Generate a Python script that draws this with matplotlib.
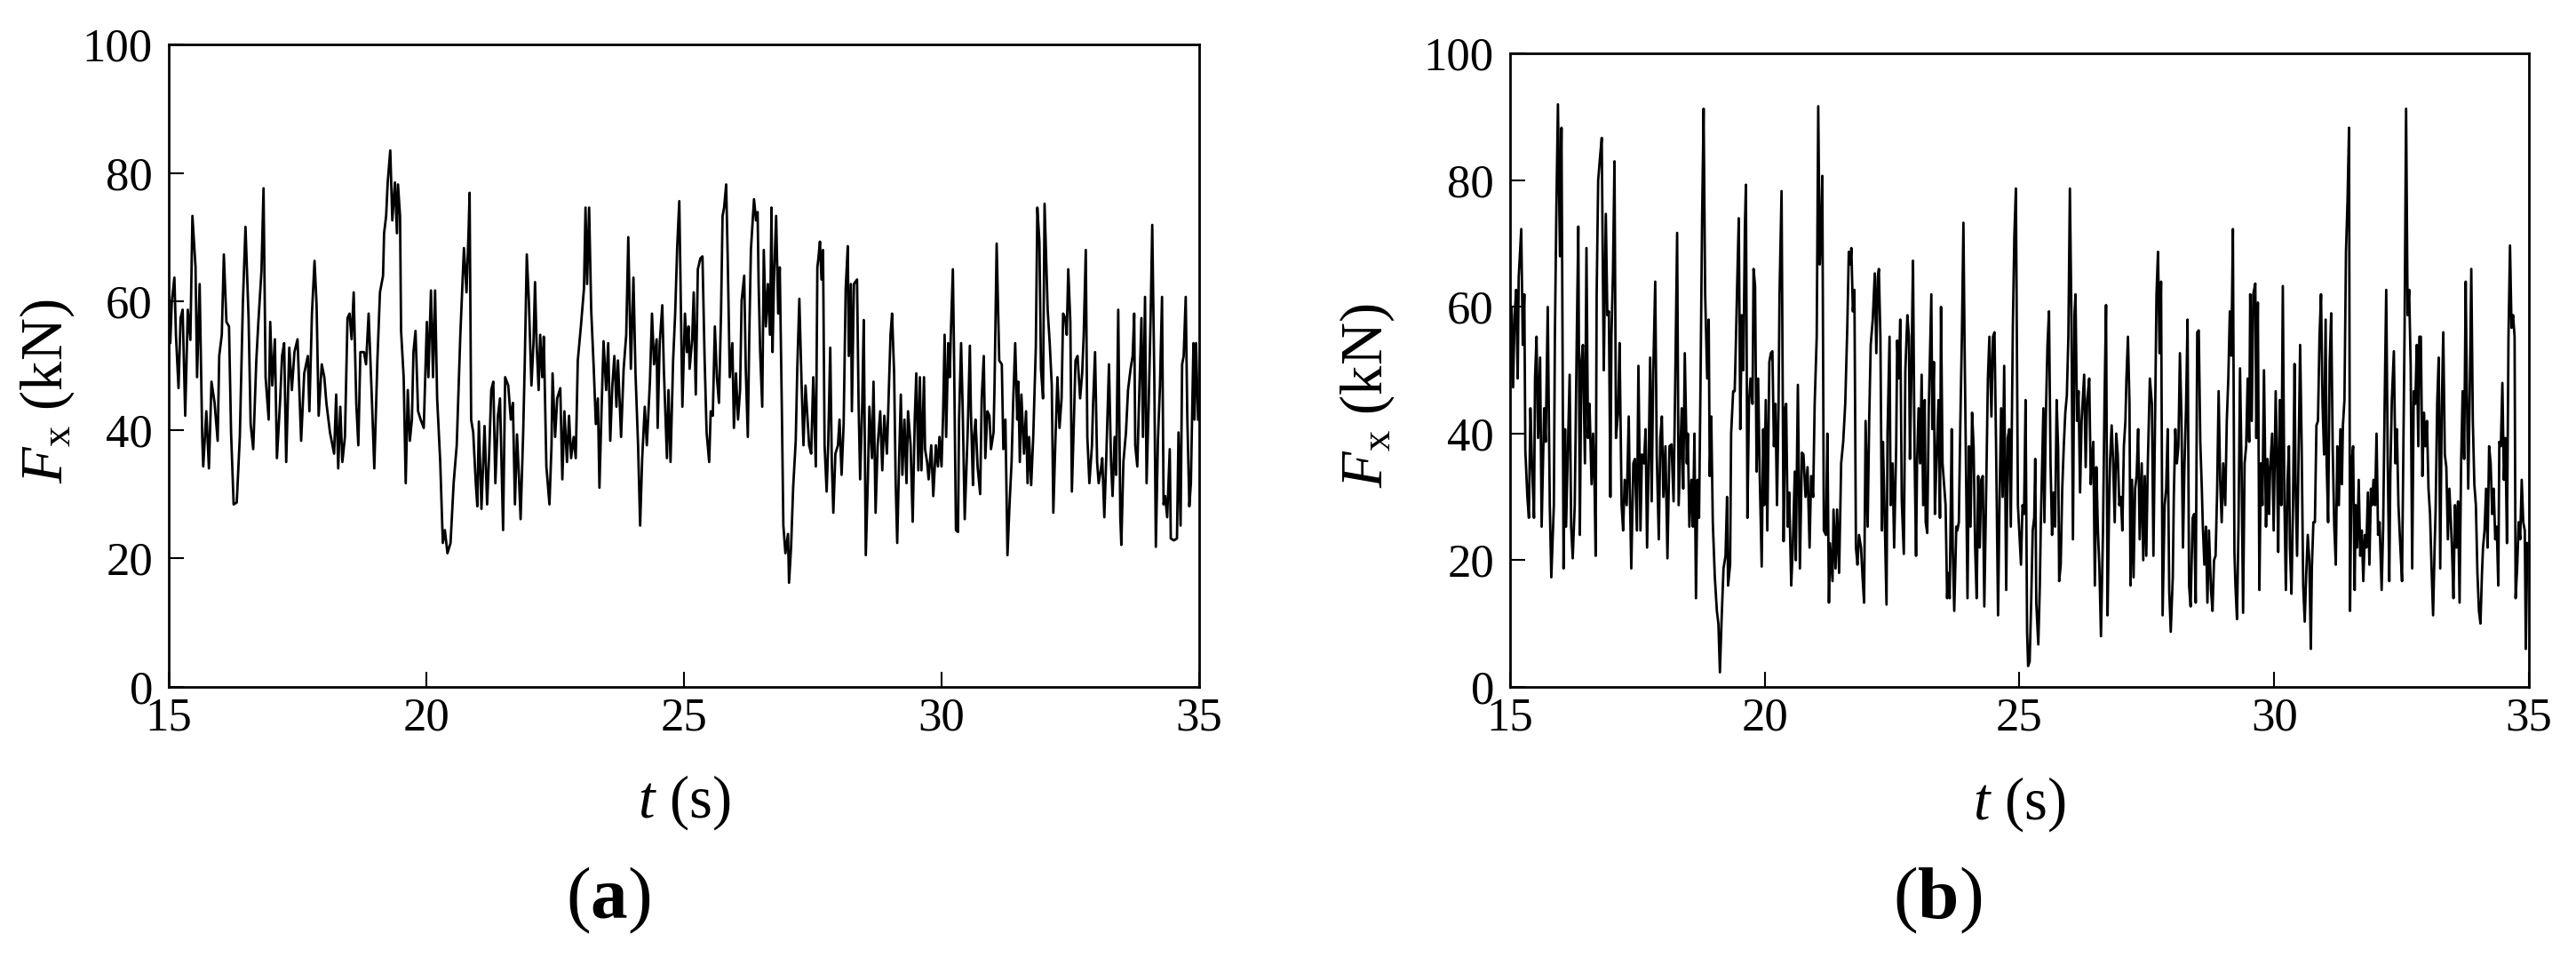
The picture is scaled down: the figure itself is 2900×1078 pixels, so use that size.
import numpy as np
import matplotlib
matplotlib.use('Agg')
import matplotlib.pyplot as plt

# values: (t in s, Fx in kN) at peaks / troughs

# panel (a)
fx_a_15_20 = [(15.00, 58.0), (15.03, 53.5), (15.06, 60), (15.11, 63.7), (15.14, 54.8), (15.19, 46.5), (15.23, 57.4),
    (15.27, 58.7), (15.32, 42.2), (15.37, 58.7), (15.42, 54), (15.46, 73.3), (15.52, 65.3), (15.55, 48.2),
    (15.60, 62.7), (15.65, 38.9), (15.67, 34.3), (15.73, 42.9), (15.78, 34), (15.83, 47.5), (15.89, 44.2),
    (15.95, 38.3), (15.98, 51.5), (16.03, 54.8), (16.07, 67.3), (16.12, 56.8), (16.17, 56.1), (16.21, 39.6),
    (16.26, 28.4), (16.32, 28.7), (16.38, 38.9), (16.44, 60), (16.49, 71.6), (16.55, 57.4), (16.59, 40.9),
    (16.64, 37), (16.70, 50.8), (16.74, 56.8), (16.80, 64.7), (16.84, 77.6), (16.88, 48.2), (16.94, 41.6),
    (16.97, 56.8), (17.01, 46.9), (17.06, 54.1), (17.10, 35.6), (17.16, 44.2), (17.20, 51.5), (17.24, 53.5),
    (17.28, 35), (17.34, 52.8), (17.39, 46.2), (17.44, 52.1), (17.50, 54.1), (17.57, 38.3), (17.63, 48.8),
    (17.70, 51.5), (17.73, 42.9), (17.78, 58.1), (17.83, 66.3), (17.87, 59.4), (17.91, 42.2), (17.97, 50.2),
    (18.02, 48.2), (18.06, 44.2), (18.13, 39.6), (18.21, 36.3), (18.25, 45.5), (18.29, 34), (18.33, 43.6),
    (18.37, 35), (18.42, 38.9), (18.47, 57.4), (18.51, 58.1), (18.55, 54.1), (18.59, 61.4), (18.64, 44.2),
    (18.68, 37.6), (18.72, 52.1), (18.79, 52.1), (18.83, 50.2), (18.88, 58.1), (18.94, 45.5), (18.99, 34),
    (19.05, 50.8), (19.10, 61.4), (19.16, 64), (19.18, 70.6), (19.22, 73.3), (19.25, 78.5), (19.30, 83.5),
    (19.34, 72.6), (19.39, 78.5), (19.43, 70.6), (19.45, 78.2), (19.49, 73.3), (19.51, 55.4), (19.56, 48.2),
    (19.60, 31.7), (19.64, 46.2), (19.68, 38.3), (19.72, 41.6), (19.75, 52.1), (19.79, 55.4), (19.84, 42.9),
    (19.89, 41.6)]

fx_a_20_25 = [(19.95, 40.3), (20.01, 56.8), (20.04, 48.2), (20.09, 61.7), (20.13, 48.2), (20.17, 61.7),
    (20.21, 44.9), (20.27, 35), (20.32, 22.4), (20.36, 24.4), (20.41, 20.8), (20.47, 22.4), (20.53, 31.7),
    (20.59, 37.6), (20.66, 54.8), (20.73, 68.3), (20.78, 61.4), (20.82, 70.9), (20.84, 76.9), (20.87, 41.6),
    (20.91, 39.6), (20.96, 31.7), (20.99, 28.1), (21.02, 41.3), (21.07, 27.7), (21.13, 40.6), (21.18, 28.4),
    (21.22, 36.3), (21.26, 46.2), (21.30, 47.5), (21.34, 31.7), (21.39, 42.2), (21.43, 44.9), (21.49, 24.4),
    (21.53, 48.2), (21.59, 46.9), (21.64, 41.6), (21.68, 44.2), (21.72, 28.4), (21.76, 39.3), (21.80, 32.3),
    (21.83, 26.1), (21.88, 39.6), (21.91, 50.2), (21.95, 67.3), (21.99, 60.1), (22.04, 46.9), (22.08, 53.5),
    (22.11, 63), (22.14, 53.5), (22.18, 46.2), (22.21, 54.8), (22.25, 48.2), (22.28, 54.5), (22.33, 34.3),
    (22.39, 28.4), (22.43, 37.6), (22.45, 48.8), (22.50, 38.9), (22.54, 44.9), (22.60, 46.5), (22.64, 32.3),
    (22.68, 42.9), (22.73, 35), (22.77, 42.2), (22.81, 35.6), (22.86, 38.9), (22.90, 35.6), (22.94, 50.8),
    (23.00, 56.1), (23.06, 62), (23.09, 74.6), (23.12, 62.7), (23.16, 74.6), (23.20, 58.7), (23.25, 49.5),
    (23.29, 40.9), (23.33, 44.9), (23.36, 31), (23.40, 42.9), (23.44, 53.8), (23.49, 46.2), (23.53, 53.5),
    (23.57, 38.3), (23.61, 46.9), (23.65, 51.5), (23.69, 43.6), (23.72, 50.8), (23.78, 38.9), (23.83, 49.5),
    (23.88, 54.8), (23.92, 70), (23.97, 49.5), (24.02, 63.7), (24.06, 48.8), (24.11, 37.6), (24.15, 25.1),
    (24.19, 35.6), (24.24, 43.6), (24.28, 37.6), (24.34, 47.5), (24.38, 58.1), (24.42, 50.2), (24.47, 54.1),
    (24.49, 40.3), (24.53, 53.5), (24.58, 59.4), (24.61, 49.5), (24.67, 35.6), (24.70, 46.2), (24.74, 35),
    (24.79, 50.8), (24.83, 58.1), (24.87, 68.6), (24.91, 75.6), (24.95, 54.8), (24.97, 43.6)]

fx_a_25_30 = [(25.02, 58.1), (25.06, 52.1), (25.09, 56.1), (25.11, 49.5), (25.16, 54.1), (25.19, 61.4),
    (25.23, 45.5), (25.27, 65), (25.32, 66.7), (25.36, 67), (25.40, 51.5), (25.44, 39.6), (25.49, 35),
    (25.52, 42.9), (25.56, 42.2), (25.60, 56.1), (25.64, 48.2), (25.68, 44.2), (25.72, 58.1), (25.75, 73.3),
    (25.78, 74.6), (25.82, 78.2), (25.85, 66.7), (25.89, 48.2), (25.94, 53.5), (25.97, 40.3), (26.01, 48.8),
    (26.05, 41.6), (26.09, 46.2), (26.12, 60.1), (26.17, 64), (26.20, 49.5), (26.24, 38.9), (26.27, 55.4),
    (26.30, 68), (26.36, 75.9), (26.40, 72.6), (26.43, 73.9), (26.45, 62.7), (26.48, 52.1), (26.52, 43.6),
    (26.55, 68), (26.59, 56.1), (26.63, 62.7), (26.67, 54.8), (26.70, 74.6), (26.72, 52.1), (26.75, 64),
    (26.79, 73.3), (26.83, 58.1), (26.86, 65.3), (26.90, 43.6), (26.93, 25.1), (26.97, 20.8), (27.02, 23.8),
    (27.04, 16.2), (27.08, 21.8), (27.12, 31), (27.17, 38.3), (27.20, 49.5), (27.24, 60.4), (27.28, 48.2),
    (27.32, 37.6), (27.36, 46.9), (27.39, 42.9), (27.43, 37.6), (27.47, 36.3), (27.51, 48.2), (27.56, 34.3),
    (27.59, 65.3), (27.61, 66.7), (27.64, 69.3), (27.67, 63.4), (27.70, 68), (27.73, 37.6), (27.77, 30.4),
    (27.80, 37.6), (27.84, 52.8), (27.87, 35), (27.90, 27.1), (27.94, 36.3), (27.99, 37.6), (28.02, 41.6),
    (28.06, 33), (28.10, 40.9), (28.14, 62), (28.18, 68.6), (28.20, 51.5), (28.24, 62.7), (28.26, 42.9),
    (28.30, 62.7), (28.36, 63.4), (28.39, 44.2), (28.42, 32.3), (28.46, 43.6), (28.49, 57.1), (28.53, 20.5),
    (28.57, 32.3), (28.60, 43.6), (28.65, 35.6), (28.68, 47.5), (28.72, 27.1), (28.76, 37.6), (28.81, 42.9),
    (28.85, 33.7), (28.89, 42.2), (28.94, 36.3), (28.97, 44.2), (29.01, 54.8), (29.04, 58.1), (29.08, 48.8),
    (29.11, 31.7), (29.14, 22.4), (29.18, 36.3), (29.21, 45.5), (29.24, 33), (29.28, 41.6), (29.32, 31.7),
    (29.35, 42.9), (29.40, 37.6), (29.44, 25.7), (29.48, 41.6), (29.51, 48.8), (29.55, 33.7), (29.58, 48.2),
    (29.61, 33.7), (29.66, 48.2), (29.68, 37), (29.72, 35), (29.75, 32.3), (29.80, 37.6), (29.84, 29.7),
    (29.89, 37.6), (29.93, 34.3), (29.96, 38.9), (30.00, 34.3)]

fx_a_30_35 = [(30.03, 42.2), (30.06, 54.8), (30.09, 38.9), (30.13, 53.5), (30.16, 48.2), (30.18, 54.8),
    (30.22, 65), (30.24, 53.5), (30.28, 24.4), (30.32, 24.1), (30.34, 41.6), (30.38, 53.5), (30.41, 43.6),
    (30.45, 26.1), (30.51, 40.3), (30.55, 53.1), (30.57, 42.9), (30.61, 31.4), (30.63, 38.9), (30.66, 41.6),
    (30.70, 34.3), (30.75, 30), (30.78, 44.9), (30.82, 51.5), (30.85, 35.6), (30.89, 42.9), (30.93, 42.2),
    (30.96, 37), (31.01, 39.6), (31.03, 47.5), (31.07, 69), (31.12, 50.8), (31.17, 50.2), (31.20, 37),
    (31.24, 41.6), (31.28, 20.5), (31.32, 28.4), (31.36, 35), (31.39, 44.2), (31.43, 53.5), (31.47, 41.6),
    (31.49, 47.5), (31.52, 35), (31.55, 45.5), (31.60, 36.3), (31.64, 42.9), (31.67, 31.7), (31.70, 38.9),
    (31.74, 31.4), (31.78, 38.9), (31.83, 52.8), (31.86, 74.6), (31.90, 69.3), (31.93, 49.5), (31.97, 44.9),
    (32.00, 75.2), (32.03, 66.7), (32.06, 58.7), (32.10, 53.5), (32.14, 46.9), (32.17, 27.1), (32.21, 38.3),
    (32.25, 48.2), (32.29, 40.3), (32.33, 44.9), (32.36, 58.1), (32.40, 57.4), (32.43, 54.8), (32.46, 65),
    (32.50, 56.8), (32.53, 30.4), (32.57, 41.6), (32.60, 50.8), (32.64, 51.5), (32.69, 44.9), (32.73, 48.8),
    (32.76, 54.8), (32.80, 68), (32.83, 38.9), (32.87, 31.7), (32.92, 37.6), (32.94, 43.6), (32.98, 52.1),
    (33.02, 35), (33.05, 31.7), (33.09, 33.7), (33.12, 35.6), (33.16, 26.4), (33.20, 36.3), (33.25, 50.2),
    (33.29, 35), (33.32, 29.7), (33.36, 38.9), (33.39, 33), (33.43, 58.7), (33.47, 26.4), (33.49, 22.1),
    (33.53, 35), (33.58, 39.6), (33.62, 46.2), (33.67, 49.5), (33.71, 51.5), (33.74, 58.1), (33.76, 37.6),
    (33.80, 34.3), (33.84, 46.2), (33.88, 57.4), (33.91, 38.9), (33.95, 60.7), (33.98, 31.7), (34.02, 43.6),
    (34.06, 58.1), (34.09, 71.9), (34.13, 48.2), (34.16, 21.8), (34.20, 38.3), (34.24, 46.9), (34.28, 60.7),
    (34.31, 28.4), (34.34, 29.7), (34.38, 26.4), (34.43, 37), (34.45, 23.1), (34.51, 22.8), (34.57, 23.1),
    (34.60, 39.6), (34.64, 25.1), (34.67, 50.2), (34.70, 51.5), (34.74, 60.7), (34.77, 42.2), (34.81, 28.1),
    (34.84, 31.7), (34.89, 53.5), (34.91, 41.6), (34.94, 53.5), (34.98, 41.6)]

# panel (b)
fx_b_15_20 = [(15.00, 52.0), (15.01, 48.7), (15.03, 60), (15.06, 47.3), (15.09, 58.7), (15.12, 62.7), (15.15, 48.7),
    (15.17, 64.7), (15.22, 72.3), (15.25, 54), (15.28, 62), (15.30, 37.3), (15.34, 30), (15.37, 26.7),
    (15.40, 44), (15.43, 35.3), (15.47, 26.7), (15.49, 48.7), (15.52, 55.3), (15.55, 39.3), (15.59, 52),
    (15.62, 25.3), (15.67, 44), (15.70, 38.7), (15.74, 60), (15.78, 28.7), (15.81, 17.3), (15.86, 28.7),
    (15.88, 55.3), (15.91, 76), (15.94, 92), (15.98, 68), (16.01, 88.3), (16.03, 55.3), (16.05, 18.7),
    (16.08, 40.7), (16.10, 25.3), (16.14, 39.3), (16.17, 49.3), (16.20, 25.3), (16.23, 20.3), (16.27, 28.7),
    (16.31, 55.3), (16.34, 72.7), (16.37, 24), (16.40, 51.3), (16.43, 54), (16.47, 35.3), (16.50, 69.3),
    (16.53, 39.3), (16.56, 44.7), (16.60, 32), (16.63, 40), (16.66, 31.3), (16.68, 20.7), (16.70, 62),
    (16.73, 80), (16.77, 84), (16.80, 86.7), (16.82, 67.3), (16.84, 50), (16.88, 74.7), (16.91, 58.7),
    (16.94, 59.3), (16.97, 30), (16.99, 55.3), (17.02, 65.3), (17.05, 83), (17.08, 39.3), (17.12, 43.3),
    (17.15, 54.3), (17.19, 28.7), (17.22, 24.7), (17.25, 32.7), (17.29, 28.7), (17.33, 42.7), (17.35, 31.3),
    (17.38, 18.7), (17.42, 35.3), (17.45, 36), (17.49, 24.7), (17.52, 50.7), (17.56, 24.7), (17.59, 36.7),
    (17.63, 35.3), (17.66, 40.7), (17.69, 22), (17.72, 35.3), (17.75, 52), (17.78, 29.3), (17.81, 49.3),
    (17.85, 64), (17.88, 36.7), (17.92, 23.3), (17.95, 39.3), (17.98, 42.7), (18.01, 30), (18.05, 38),
    (18.09, 20.3), (18.13, 38), (18.17, 38.3), (18.21, 29.3), (18.24, 46.7), (18.28, 71.7), (18.31, 28.7),
    (18.35, 38.7), (18.37, 44), (18.40, 31.3), (18.43, 52.7), (18.47, 35.3), (18.49, 40), (18.52, 25.3),
    (18.56, 32.7), (18.59, 25.3), (18.62, 40), (18.65, 14), (18.68, 32.7), (18.71, 26.7), (18.74, 48.7),
    (18.77, 74), (18.80, 91.3), (18.83, 62), (18.87, 48.7), (18.90, 58), (18.92, 33.3), (18.95, 42.7),
    (18.98, 26), (19.02, 17.3), (19.06, 12), (19.09, 10), (19.12, 2.3), (19.15, 10), (19.19, 18.7),
    (19.23, 20.7), (19.26, 30), (19.28, 16), (19.32, 19.3), (19.34, 40), (19.38, 46.7), (19.41, 46.7),
    (19.43, 53.3), (19.46, 64), (19.49, 74), (19.52, 40.7), (19.55, 58.7), (19.58, 50), (19.61, 72.7),
    (19.63, 79.3), (19.66, 26.7), (19.69, 44.7), (19.72, 48.7), (19.76, 44.7), (19.78, 66), (19.81, 63.3),
    (19.84, 34), (19.87, 48.7)]

fx_b_20_25 = [(19.90, 34), (19.94, 19), (19.97, 40.7), (19.99, 28.7), (20.02, 45.3), (20.05, 24.7),
    (20.09, 51.3), (20.12, 52.7), (20.15, 53), (20.18, 38), (20.21, 44.7), (20.24, 28.7), (20.27, 44),
    (20.29, 62), (20.33, 78.3), (20.37, 23), (20.40, 44), (20.42, 44.7), (20.45, 25.3), (20.48, 30.7),
    (20.52, 16), (20.55, 22), (20.59, 34), (20.61, 20), (20.65, 47.7), (20.69, 18.7), (20.73, 37),
    (20.76, 36.7), (20.80, 30), (20.84, 34.7), (20.88, 22), (20.91, 33.3), (20.95, 30), (20.98, 44.7),
    (21.02, 55.3), (21.05, 91.7), (21.08, 66.7), (21.11, 72.7), (21.13, 80.7), (21.16, 24.7), (21.20, 24),
    (21.23, 40), (21.26, 13.3), (21.28, 22.7), (21.33, 16.7), (21.35, 28), (21.39, 18.7), (21.42, 28),
    (21.46, 18), (21.50, 35.3), (21.54, 38.7), (21.58, 44.7), (21.62, 56.7), (21.65, 68.7), (21.68, 66.7),
    (21.70, 69.3), (21.73, 59.3), (21.76, 62.7), (21.79, 22), (21.82, 19.3), (21.85, 24), (21.89, 22),
    (21.92, 17.3), (21.95, 13.3), (21.98, 42), (22.02, 25.3), (22.05, 42), (22.08, 54), (22.12, 58),
    (22.16, 65.3), (22.19, 52.7), (22.22, 64.7), (22.24, 66), (22.27, 55.3), (22.30, 24.7), (22.32, 38.7),
    (22.35, 28.7), (22.39, 13), (22.41, 40), (22.45, 55.3), (22.47, 28.7), (22.51, 35.3), (22.54, 22),
    (22.58, 38), (22.60, 54.7), (22.63, 48.7), (22.66, 58), (22.69, 29.3), (22.73, 21), (22.76, 50),
    (22.80, 58.7), (22.83, 55.3), (22.85, 36), (22.88, 50), (22.91, 67.3), (22.94, 37.3), (22.97, 20.7),
    (22.99, 35.3), (23.02, 44), (23.05, 35.3), (23.08, 49.3), (23.11, 28.7), (23.14, 45.3), (23.16, 26),
    (23.19, 24.3), (23.22, 44), (23.24, 51.3), (23.27, 62), (23.29, 40.7), (23.32, 51.3), (23.34, 27.3),
    (23.37, 35.3), (23.41, 45.3), (23.44, 26.7), (23.46, 60), (23.49, 35.3), (23.52, 32), (23.55, 28.7),
    (23.58, 14), (23.60, 18), (23.63, 14), (23.67, 40.7), (23.69, 22), (23.72, 12), (23.76, 25.3),
    (23.78, 24.7), (23.81, 26), (23.84, 42), (23.87, 55.3), (23.90, 73.3), (23.92, 56), (23.95, 35.3),
    (23.98, 14), (24.01, 38), (24.04, 25.3), (24.07, 43.3), (24.10, 38), (24.13, 22), (24.16, 14),
    (24.19, 33.3), (24.22, 22), (24.25, 32.7), (24.28, 33.3), (24.31, 12.7), (24.35, 32.7), (24.38, 48.7),
    (24.41, 55.3), (24.45, 42.7), (24.48, 55.3), (24.51, 56), (24.54, 38.7), (24.58, 11.3), (24.61, 30),
    (24.64, 44), (24.67, 30), (24.70, 50.7), (24.74, 15.3), (24.77, 39.3), (24.80, 40.7), (24.83, 25.3),
    (24.87, 56.7), (24.90, 71.3), (24.93, 78.7)]

fx_b_25_30 = [(24.97, 28.7), (25.00, 24), (25.03, 19.3), (25.06, 28.7), (25.09, 27.3), (25.12, 45.3),
    (25.15, 8.7), (25.17, 3.3), (25.20, 4), (25.23, 13.3), (25.26, 24.7), (25.29, 26.7), (25.31, 36),
    (25.33, 13.3), (25.37, 6.7), (25.40, 16), (25.42, 26), (25.47, 44), (25.49, 26), (25.52, 43.3),
    (25.55, 54), (25.58, 59.3), (25.61, 35.3), (25.64, 24), (25.67, 30.7), (25.70, 25.3), (25.73, 45.3),
    (25.76, 37.3), (25.78, 16.7), (25.81, 19.3), (25.84, 31.3), (25.87, 38), (25.90, 43.3), (25.93, 46),
    (25.96, 55.3), (25.99, 78.7), (26.02, 58.7), (26.05, 23.3), (26.08, 58.7), (26.10, 62), (26.13, 42),
    (26.16, 46.7), (26.19, 30.7), (26.22, 42), (26.27, 49.3), (26.30, 34.7), (26.33, 45.3), (26.37, 48.7),
    (26.40, 32), (26.42, 35.3), (26.45, 38.7), (26.48, 16), (26.51, 34.7), (26.54, 24.7), (26.57, 18.7),
    (26.60, 8), (26.64, 24.7), (26.67, 45.3), (26.70, 60.3), (26.73, 11.3), (26.76, 28.7), (26.78, 36),
    (26.81, 41.3), (26.84, 35.3), (26.87, 26), (26.90, 40), (26.93, 36.7), (26.96, 28.7), (26.99, 30),
    (27.02, 24.7), (27.05, 38), (27.08, 42), (27.10, 48.7), (27.13, 55.3), (27.16, 44.7), (27.18, 16),
    (27.21, 32.7), (27.24, 17.3), (27.27, 31.3), (27.30, 33.3), (27.33, 40.7), (27.36, 23.3), (27.40, 35.3),
    (27.43, 20), (27.46, 33.3), (27.49, 20.7), (27.52, 35.3), (27.56, 48.7), (27.60, 44.7), (27.63, 20.7),
    (27.66, 40.7), (27.69, 62), (27.72, 68.7), (27.75, 52.7), (27.78, 64), (27.81, 11.3), (27.85, 28.7),
    (27.88, 31.3), (27.91, 40.7), (27.94, 15.3), (27.97, 8.7), (28.01, 17.3), (28.03, 30), (28.06, 40.7),
    (28.09, 35.3), (28.12, 38), (28.15, 52.7), (28.18, 42.7), (28.21, 22), (28.24, 35.3), (28.27, 44),
    (28.30, 58), (28.33, 16), (28.36, 12.7), (28.40, 26.7), (28.43, 27.3), (28.46, 13.3), (28.49, 56),
    (28.52, 56.3), (28.55, 38.7), (28.58, 31.3), (28.60, 25.3), (28.63, 19.3), (28.66, 25.3), (28.69, 13.3),
    (28.72, 24.7), (28.76, 15.3), (28.79, 12), (28.82, 20), (28.85, 20.7), (28.88, 30.7), (28.91, 46.7),
    (28.94, 32.7), (28.97, 26), (29.00, 35.3), (29.04, 28.7), (29.07, 42), (29.10, 48.7), (29.13, 59.3),
    (29.16, 52.3), (29.19, 72.3), (29.22, 21.3), (29.24, 16), (29.27, 10.7), (29.30, 25.3), (29.33, 50.3),
    (29.36, 34.7), (29.39, 11.7), (29.42, 35.3), (29.45, 38), (29.48, 48.7), (29.51, 38.7), (29.53, 62),
    (29.56, 42), (29.59, 62), (29.63, 63.7), (29.65, 39.3), (29.68, 60.7), (29.71, 15.3), (29.74, 35.3),
    (29.77, 28.7), (29.80, 50), (29.84, 25.3), (29.87, 36), (29.90, 27.3), (29.92, 34), (29.96, 40),
    (29.99, 24.7)]

fx_b_30_35 = [(30.03, 46.7), (30.06, 34), (30.08, 21.3), (30.11, 45.3), (30.14, 28.7), (30.17, 63.3),
    (30.20, 30), (30.23, 15.3), (30.26, 32), (30.29, 38), (30.31, 22), (30.34, 14.7), (30.37, 28.7),
    (30.40, 51), (30.42, 32), (30.45, 20.7), (30.48, 36.7), (30.51, 54), (30.54, 38), (30.57, 16),
    (30.60, 10.3), (30.63, 18), (30.66, 24), (30.69, 20), (30.72, 6), (30.74, 18.7), (30.77, 26),
    (30.80, 26), (30.83, 41.3), (30.86, 42), (30.89, 55.3), (30.92, 62), (30.95, 44.7), (30.98, 36.7),
    (31.01, 58), (31.03, 35.3), (31.06, 26), (31.09, 51.3), (31.12, 59), (31.15, 37.3), (31.18, 25.3),
    (31.21, 19.3), (31.24, 38), (31.27, 28.7), (31.30, 40.7), (31.33, 32), (31.35, 41.3), (31.38, 45.3),
    (31.41, 68.7), (31.44, 76.7), (31.47, 88.3), (31.49, 12), (31.52, 35.3), (31.55, 38), (31.58, 15.3),
    (31.60, 28.7), (31.63, 22), (31.66, 32.7), (31.69, 20.7), (31.72, 24.7), (31.75, 16.7), (31.78, 24),
    (31.81, 22), (31.84, 30.7), (31.87, 19.3), (31.90, 31.3), (31.92, 28.7), (31.95, 32.7), (31.98, 28.7),
    (32.01, 40), (32.04, 24), (32.07, 26), (32.11, 15.3), (32.14, 25.3), (32.17, 45.3), (32.20, 62.7),
    (32.23, 35.3), (32.26, 16.7), (32.28, 33.3), (32.31, 45.3), (32.35, 53), (32.38, 35.3), (32.41, 40.7),
    (32.44, 28.7), (32.47, 23.3), (32.51, 16.7), (32.53, 32), (32.56, 56), (32.59, 91.3), (32.62, 58.7),
    (32.65, 62.7), (32.68, 50.7), (32.71, 18.7), (32.74, 46.7), (32.77, 44.7), (32.80, 54), (32.83, 38),
    (32.85, 55.3), (32.88, 55.3), (32.91, 33.3), (32.94, 43.3), (32.97, 38), (33.00, 42), (33.03, 31.3),
    (33.06, 27.3), (33.09, 18.7), (33.12, 11.3), (33.15, 22), (33.17, 28), (33.20, 44.7), (33.23, 52),
    (33.26, 18.7), (33.29, 44), (33.32, 56), (33.35, 36.7), (33.38, 34.7), (33.41, 23.3), (33.44, 31.3),
    (33.47, 26), (33.49, 22), (33.52, 14), (33.55, 28.7), (33.58, 22), (33.61, 29.3), (33.64, 13.3),
    (33.67, 35.3), (33.70, 46.7), (33.73, 36), (33.76, 64), (33.78, 48.7), (33.81, 31.3), (33.84, 46.7),
    (33.87, 66), (33.90, 42), (33.93, 32), (33.96, 28.7), (33.99, 18), (34.02, 12), (34.05, 10),
    (34.08, 18), (34.10, 22), (34.13, 24.7), (34.16, 31.3), (34.19, 22), (34.22, 38), (34.25, 35.3),
    (34.28, 27.3), (34.31, 31.3), (34.34, 23.3), (34.37, 25.3), (34.40, 16), (34.42, 38.7), (34.45, 38),
    (34.48, 48), (34.51, 32.7), (34.54, 39.3), (34.57, 22.7), (34.60, 55.3), (34.63, 69.7), (34.66, 56.7),
    (34.69, 58.7), (34.72, 55.3), (34.74, 14), (34.77, 18.7), (34.80, 26), (34.83, 23.3), (34.86, 32.7),
    (34.89, 26), (34.92, 24.7), (34.94, 6), (34.97, 22.7)]

xticks = [15, 20, 25, 30, 35]
yticks = [0, 20, 40, 60, 80, 100]

plt.rcParams['font.family'] = 'Liberation Serif'
plt.rcParams['mathtext.fontset'] = 'custom'
plt.rcParams['mathtext.rm'] = 'Liberation Serif'
plt.rcParams['mathtext.it'] = 'Liberation Serif:italic'
plt.rcParams['mathtext.bf'] = 'Liberation Serif:bold'


def series(*segs):
    pts = np.array([p for s in segs for p in s])
    return pts[:, 0], pts[:, 1]


fig = plt.figure(figsize=(29, 10.78), dpi=100)
ax_a = fig.add_axes([0.0655, 0.283, 0.4, 0.6707])
ax_b = fig.add_axes([0.5862, 0.283, 0.3955, 0.661])

ta, fa = series(fx_a_15_20, fx_a_20_25, fx_a_25_30, fx_a_30_35)
tb, fb = series(fx_b_15_20, fx_b_20_25, fx_b_25_30, fx_b_30_35)

for ax, t, f in [(ax_a, ta, fa), (ax_b, tb, fb)]:
    ax.plot(t, f, color='black', lw=2.0)
    ax.set_xlim(15, 35)
    ax.set_ylim(0, 100)
    ax.set_xticks(xticks)
    ax.set_yticks(yticks)
    ax.tick_params(direction='in', length=12, width=1.5, labelsize=38)
    ax.tick_params(axis='x', pad=8.5)
    ax.tick_params(axis='y', pad=13)
    for sp in ax.spines.values():
        sp.set_linewidth(2)
    ax.set_xlabel(r'$t$ (s)', fontsize=48)
    ax.set_ylabel(r'$F_{\mathrm{x}}$ (kN)', fontsize=48)

ax_a.xaxis.set_label_coords(0.5, -0.135)
ax_b.xaxis.set_label_coords(0.5, -0.139)
ax_a.yaxis.set_label_coords(-0.09, 0.46)
ax_b.yaxis.set_label_coords(-0.112, 0.46)

fig.text(0.236, 0.060, r'($\mathbf{a}$)', fontsize=60, ha='center', va='center')
fig.text(0.752, 0.060, r'($\mathbf{b}$)', fontsize=60, ha='center', va='center')

fig.savefig('out.png', dpi=100)
